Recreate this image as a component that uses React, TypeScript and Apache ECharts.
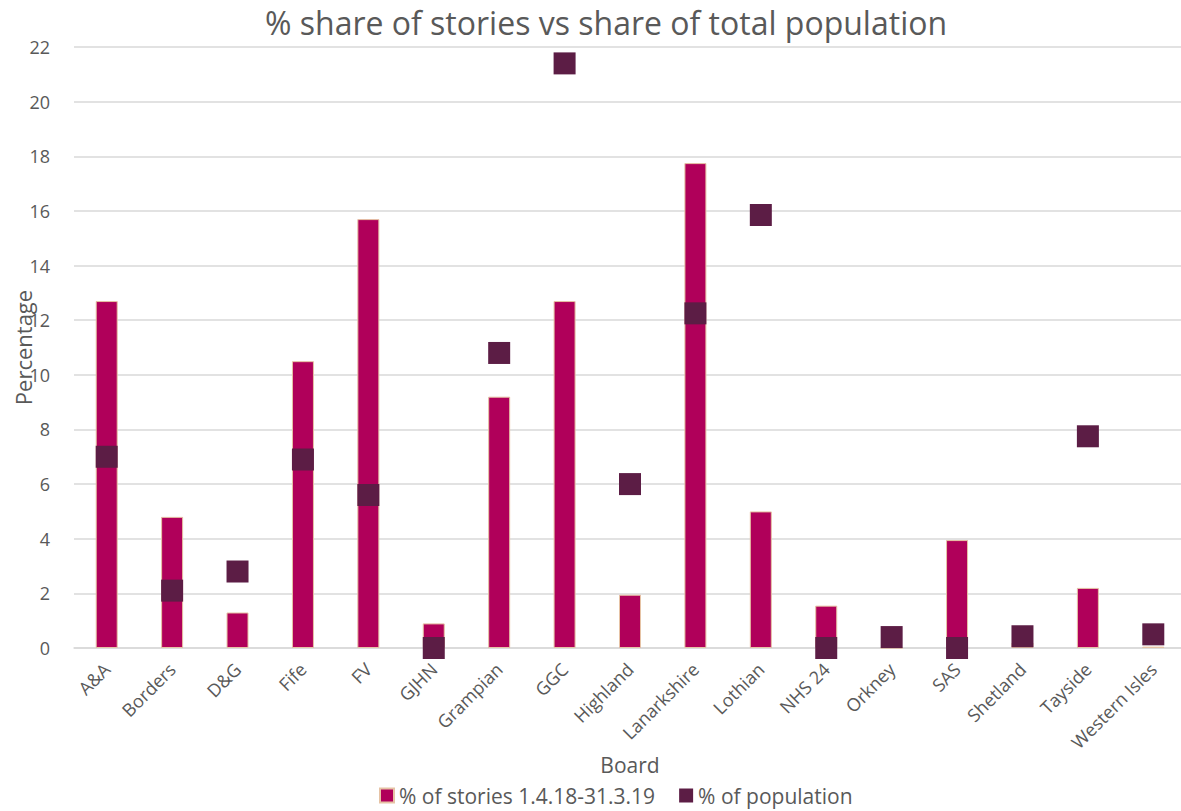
import React, { useEffect, useRef } from "react";
import * as echarts from "echarts";

const categories = [
  "A&A", "Borders", "D&G", "Fife", "FV", "GJHN", "Grampian", "GGC", "Highland",
  "Lanarkshire", "Lothian", "NHS 24", "Orkney", "SAS", "Shetland", "Tayside", "Western Isles",
];
const storiesShare = [12.7, 4.8, 1.3, 10.5, 15.7, 0.9, 9.2, 12.7, 1.95, 17.75, 5.0, 1.55, 0, 3.95, 0.2, 2.2, 0.05];
const populationShare = [7.0, 2.1, 2.8, 6.9, 5.6, 0, 10.8, 21.4, 6.0, 12.25, 15.85, 0, 0.4, 0, 0.43, 7.75, 0.5];
const yTicks = { min: 0, max: 22, interval: 2 };

const FONT = "'Open Sans', 'Noto Sans', sans-serif";
const TEXT = "#595959";

export default function App() {
  const ref = useRef<HTMLDivElement>(null);
  useEffect(() => {
    if (!ref.current) return;
    const chart = echarts.init(ref.current, undefined, { renderer: "svg" });
    chart.setOption({
      animation: false,
      backgroundColor: "#ffffff",
      textStyle: { fontFamily: FONT },
      title: {
        text: "% share of stories vs share of total population",
        left: 260,
        top: 1,
        textStyle: { fontFamily: FONT, fontSize: 32, fontWeight: "normal", color: TEXT },
      },
      legend: {
        bottom: 0,
        left: 374,
        itemWidth: 14,
        itemHeight: 14,
        itemGap: 24,
        icon: "rect",
        textStyle: { fontFamily: FONT, fontSize: 21, color: TEXT },
        data: ["% of stories 1.4.18-31.3.19", "% of population"],
      },
      grid: { left: 74, right: -5, top: 47, bottom: 163, containLabel: false, outerBoundsMode: "none" },
      xAxis: {
        type: "category",
        data: categories,
        name: "Board",
        nameLocation: "middle",
        nameGap: 106,
        nameMoveOverlap: false,
        nameTextStyle: { fontFamily: FONT, fontSize: 21, color: TEXT },
        axisLine: { show: true, lineStyle: { color: "#D9D9D9", width: 1.5 } },
        axisTick: { show: false },
        axisLabel: {
          rotate: 45,
          interval: 0,
          margin: 18,
          fontFamily: FONT,
          fontSize: 18,
          color: TEXT,
        },
      },
      yAxis: {
        type: "value",
        min: yTicks.min,
        max: yTicks.max,
        interval: yTicks.interval,
        name: "Percentage",
        nameLocation: "middle",
        nameRotate: 90,
        nameGap: 40,
        nameMoveOverlap: false,
        nameTextStyle: { fontFamily: FONT, fontSize: 22, color: TEXT },
        axisLine: { show: false },
        axisTick: { show: false },
        axisLabel: { fontFamily: FONT, fontSize: 18, color: TEXT, margin: 24 },
        splitLine: { lineStyle: { color: "#D9D9D9", width: 1.5 } },
      },
      series: [
        {
          name: "% of stories 1.4.18-31.3.19",
          type: "bar",
          data: storiesShare,
          barWidth: 22,
          itemStyle: { color: "#B0005A", borderColor: "#E6C3A5", borderWidth: 1 },
          z: 2,
        },
        {
          name: "% of population",
          type: "scatter",
          data: populationShare,
          symbol: "rect",
          symbolSize: 22,
          itemStyle: { color: "#5C1D45", opacity: 1 },
          z: 3,
        },
      ],
    });
    return () => chart.dispose();
  }, []);
  return <div ref={ref} style={{ width: 1181, height: 811, position: "absolute", left: 0, top: 0 }} />;
}
